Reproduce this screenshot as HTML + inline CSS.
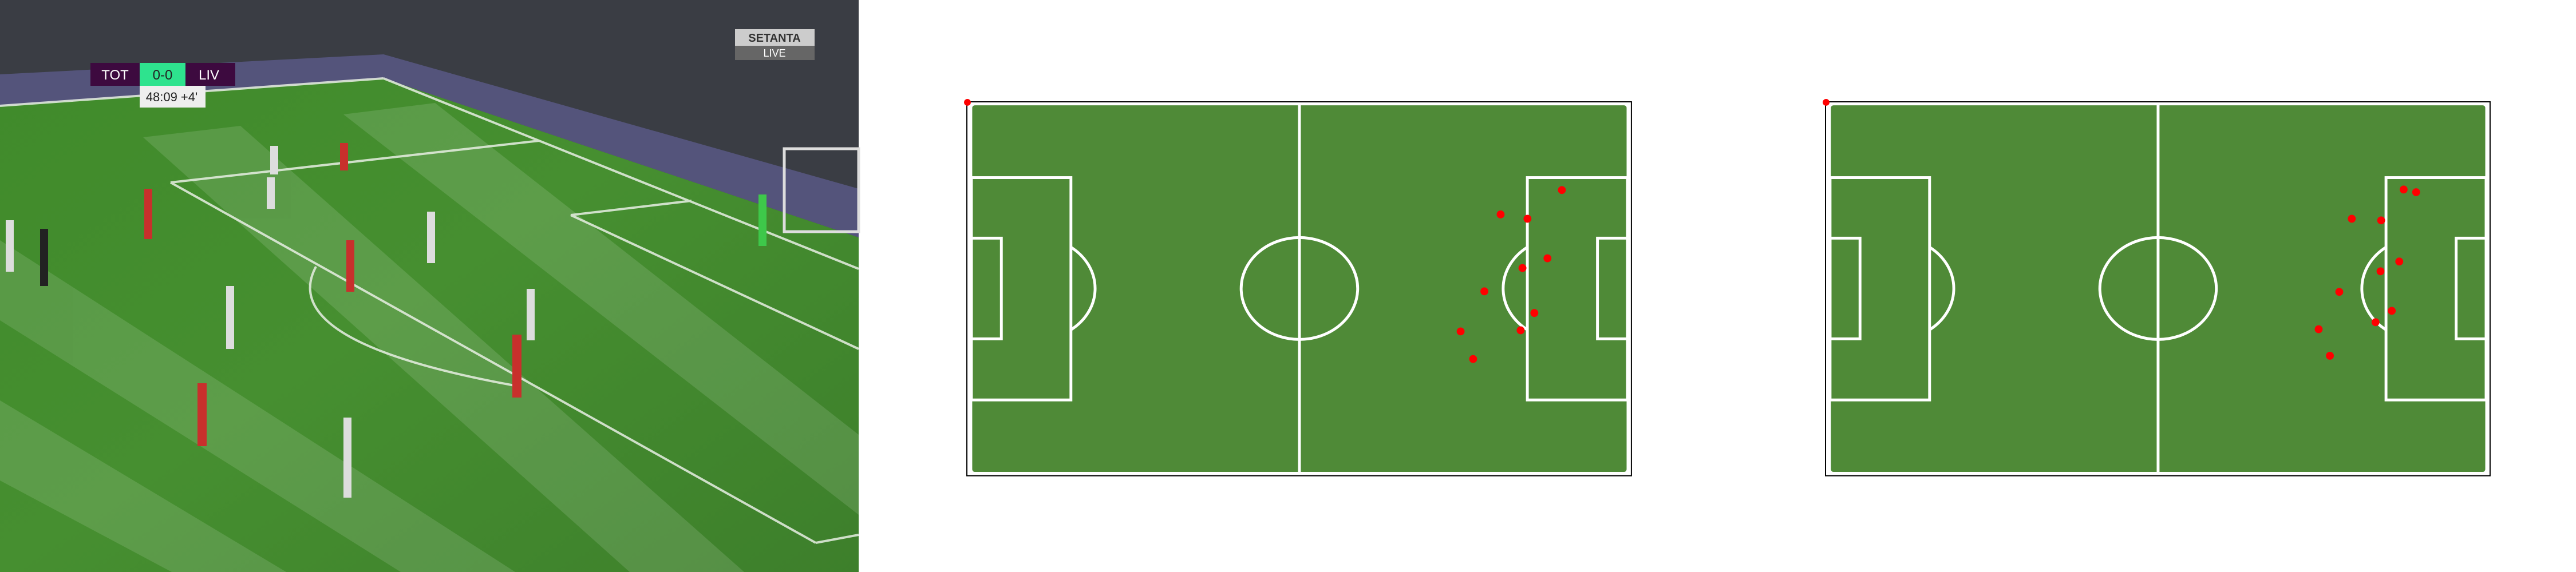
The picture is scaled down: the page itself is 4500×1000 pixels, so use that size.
<!DOCTYPE html>
<html><head><meta charset="utf-8"><style>
html,body{margin:0;padding:0;background:#fff;width:4500px;height:1000px;overflow:hidden;font-family:"Liberation Sans",sans-serif}
svg{position:absolute;top:0;left:0}
</style></head><body>
<svg id="root" width="4500" height="1000" viewBox="0 0 4500 1000">
<defs>
<linearGradient id="grass" x1="0" y1="0" x2="1" y2="1">
<stop offset="0" stop-color="#3f8a2a"/><stop offset="0.5" stop-color="#468f30"/><stop offset="1" stop-color="#3d7f2b"/>
</linearGradient>
</defs>
<g>
<rect x="0" y="0" width="1500" height="1000" fill="url(#grass)"/>
<g opacity="0.12" fill="#fff">
<polygon points="0,420 0,560 700,1000 900,1000"/>
<polygon points="0,700 0,840 300,1000 500,1000"/>
<polygon points="250,240 420,220 1300,1000 1100,1000"/>
<polygon points="600,200 760,180 1500,760 1500,900"/>
</g>
<polygon points="0,0 1500,0 1500,415 670,137 0,185" fill="#3a3d44"/>
<polygon points="0,130 670,95 1500,330 1500,415 670,137 0,185" fill="#5b5a8a" opacity="0.8"/>
<g stroke="#e8efe4" stroke-width="4" fill="none" opacity="0.85">
<line x1="0" y1="185" x2="670" y2="137"/>
<line x1="670" y1="137" x2="1500" y2="470"/>
<line x1="298" y1="319" x2="1425" y2="949"/>
<line x1="298" y1="319" x2="942" y2="246"/>
<line x1="997" y1="376" x2="1208" y2="351"/>
<line x1="997" y1="376" x2="1500" y2="610"/>
<line x1="1425" y1="949" x2="1500" y2="935"/>
<path d="M552,466 Q480,600 910,676"/>
</g>
<rect x="1370" y="260" width="130" height="145" fill="none" stroke="#ddd" stroke-width="5"/>
<g>
<rect x="594" y="250" width="14" height="48" fill="#c8302c"/><rect x="472" y="255" width="14" height="50" fill="#ddd"/>
<rect x="466" y="310" width="14" height="55" fill="#ddd"/><rect x="252" y="330" width="14" height="88" fill="#c8302c"/>
<rect x="746" y="370" width="14" height="90" fill="#ddd"/><rect x="605" y="420" width="14" height="90" fill="#c8302c"/>
<rect x="395" y="500" width="14" height="110" fill="#ddd"/><rect x="920" y="505" width="14" height="90" fill="#ddd"/>
<rect x="895" y="585" width="16" height="110" fill="#c8302c"/><rect x="345" y="670" width="16" height="110" fill="#c8302c"/>
<rect x="600" y="730" width="14" height="140" fill="#ddd"/><rect x="10" y="385" width="14" height="90" fill="#ddd"/>
<rect x="70" y="400" width="14" height="100" fill="#222"/><rect x="1325" y="340" width="14" height="90" fill="#3ec84a"/>
</g>
<g>
<rect x="158" y="110" width="86" height="40" fill="#3d0a3f"/>
<rect x="244" y="110" width="80" height="40" fill="#2ee38e"/>
<rect x="324" y="110" width="87" height="40" fill="#3d0a3f"/>
<text x="201" y="139" fill="#fff" font-size="24" text-anchor="middle">TOT</text>
<text x="284" y="139" fill="#222" font-size="24" text-anchor="middle">0-0</text>
<text x="365" y="139" fill="#fff" font-size="24" text-anchor="middle">LIV</text>
<rect x="244" y="150" width="115" height="38" fill="#eee"/>
<text x="300" y="177" fill="#222" font-size="22" text-anchor="middle">48:09  +4'</text>
</g>
<g>
<rect x="1284" y="51" width="139" height="29" fill="#ccc"/>
<rect x="1284" y="80" width="139" height="25" fill="#666"/>
<text x="1353" y="73" fill="#333" font-size="20" font-weight="bold" text-anchor="middle">SETANTA</text>
<text x="1353" y="99" fill="#fff" font-size="18" text-anchor="middle">LIVE</text>
</g>
</g>
<g id="p1"></g>
<g id="p2"></g>
</svg>
<script>
// Player positions in pitch metres (105 x 68)
const pitch1X = [94.5, 84.7, 89.0, 92.2, 88.2, 82.1, 90.1, 78.3, 87.9, 80.3];
const pitch1Y = [15.8, 20.3, 21.1, 28.4, 30.2, 34.5, 38.5, 41.9, 41.7, 47.0];
const pitch2X = [91.8, 93.8, 83.5, 88.2, 91.1, 88.1, 81.5, 89.9, 87.3, 78.2, 80.0];
const pitch2Y = [15.7, 16.2, 21.1, 21.4, 29.0, 30.8, 34.6, 38.1, 40.2, 41.5, 46.4];

const NS = "http://www.w3.org/2000/svg";
function mk(tag, attrs, parent){const e=document.createElementNS(NS,tag);for(const k in attrs)e.setAttribute(k,attrs[k]);parent.appendChild(e);return e;}
function drawPitch(g, ox, oy, xs, ys, label){
  g.setAttribute('transform','translate('+ox+','+oy+') scale(0.988,0.989)');
  const W=1175,H=661, fx=8, fy=4.7, fw=1160, fh=651;
  const sx = m => fx + m/105*fw;
  const sy = m => fy + m/68*fh;
  const frame = mk('rect',{x:0,y:0,width:W,height:H,fill:'#fff',stroke:'#000','stroke-width':2},g);
  
  
  const field = mk('rect',{x:fx,y:fy,width:fw,height:fh,rx:6,fill:'#4f8a37',stroke:'#fff','stroke-width':3},g);
  
  
  const lines = mk('g',{stroke:'#fff','stroke-width':5,fill:'none'},g);
  
  
  mk('line',{x1:588,y1:fy,x2:588,y2:fy+fh},lines);
  mk('ellipse',{cx:588,cy:330,rx:103,ry:90},lines);
  mk('rect',{x:fx,y:134,width:176,height:393},lines);
  mk('rect',{x:fx,y:241,width:53,height:178},lines);
  mk('rect',{x:991,y:134,width:177,height:393},lines);
  mk('rect',{x:1115,y:241,width:53,height:178},lines);
  mk('path',{d:'M184,257 A103,90 0 0 1 184,403'},lines);
  mk('path',{d:'M991,257 A103,90 0 0 0 991,403'},lines);
  const corner = mk('circle',{cx:1,cy:1,r:6,fill:'#f00'},g);
  
  
  for(let i=0;i<xs.length;i++){
    const c = mk('ellipse',{cx:sx(xs[i]),cy:sy(ys[i]),rx:7,ry:7,fill:'#f00'},g);
    
    
  }
}
const g1=document.getElementById('p1');


drawPitch(g1,1689,178,pitch1X,pitch1Y,'pitch1');
const g2=document.getElementById('p2');


drawPitch(g2,3189,178,pitch2X,pitch2Y,'pitch2');
</script>
</body></html>
